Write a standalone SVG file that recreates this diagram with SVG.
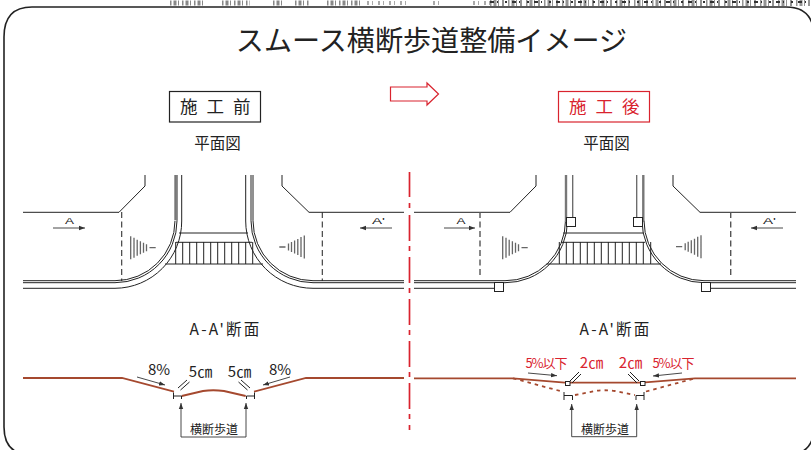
<svg xmlns="http://www.w3.org/2000/svg" width="811" height="450" viewBox="0 0 811 450">
<style>
text{font-family:"Noto Sans CJK JP","Liberation Sans",sans-serif;fill:#222}
.l{fill:none;stroke:#222;stroke-width:1}
.g{fill:none;stroke:#666;stroke-width:1.3}
.th{fill:none;stroke:#777;stroke-width:2.4}
.d{fill:none;stroke:#333;stroke-width:1.1;stroke-dasharray:6 3.5}
.dg{fill:none;stroke:#555;stroke-width:1.4;stroke-dasharray:6 3.5}
.b{fill:none;stroke:#a5492f;stroke-width:1.8}
.bd{fill:none;stroke:#a5492f;stroke-width:1.8;stroke-dasharray:3.5 4}
.sq{fill:#fff;stroke:#222;stroke-width:1}
.a{fill:none;stroke:#333;stroke-width:.9;marker-end:url(#ah)}
.s{font-size:15.5px}
.m{text-anchor:middle}
.p{font-family:"Liberation Sans",sans-serif;font-size:9px}
.red{fill:#d9232e}
.sec{font-size:15.5px;letter-spacing:2.2px;text-anchor:middle}
</style>
<defs>
<marker id="ah" markerWidth="7" markerHeight="6" refX="6" refY="3" orient="auto" markerUnits="userSpaceOnUse"><path d="M0,.8L6,3L0,5.2z" fill="#333"/></marker>
<g id="fan"><path class="g" d="M0,-11.5V11.5M3.3,-10V10M6.5,-8V8M9.7,-6.5V6.5M12.8,-5V5M15.8,-3.5V3.5M18.8,0H25"/></g>
</defs>
<rect width="811" height="450" fill="#fff"/>
<g id="scan-noise" fill="none">
<path d="M170,3H203M222,3H250M273,3H283M295,3H310M327,3H360" stroke="#555" stroke-width="5" stroke-dasharray="1.5 2 3 1.5 1 3" opacity=".7"/>
<path d="M367,3H410M433,3H443M473,3H490" stroke="#aaa" stroke-width="4" stroke-dasharray="2 3 1 5"/>
<path d="M490,3H811" stroke="#666" stroke-width="6" stroke-dasharray="1.5 2 3 1.5 1 3 2 4" opacity=".7"/>
<path d="M490,2H811" stroke="#333" stroke-width="2" stroke-dasharray="4 3 1 7 2 5"/>
</g>
<path id="frame" d="M4,427V37Q4,7 32,7H786Q814,7 814,37V427Q814,455 786,455H32Q4,455 4,427Z" fill="none" stroke="#222" stroke-width="1.6"/>
<text id="title" x="431.5" y="51" class="m" font-size="28.1">スムース横断歩道整備イメージ</text>
<g id="before-label"><rect x="169.5" y="91.5" width="91" height="30.5" fill="#fff" stroke="#222" stroke-width="1.2"/>
<text x="180" y="113" font-size="17.5" letter-spacing="9">施工前</text></g>
<g id="after-label"><rect x="558.5" y="91.5" width="91" height="30.5" fill="#fff" stroke="#d9232e" stroke-width="1.2"/>
<text x="569" y="113" font-size="17.5" letter-spacing="9" class="red">施工後</text></g>
<path id="transition-arrow" d="M390.5,87H427V83L438.5,94L427,105V101H390.5Z" fill="#fff" stroke="#d9232e" stroke-width="1.2"/>
<text id="plan-l" x="217.5" y="149" class="m s">平面図</text>
<text id="plan-r" x="606.5" y="149" class="m s">平面図</text>
<path id="divider" d="M409.5,172V197M409.5,203V208M409.5,215V241M409.5,246V251M409.5,257V283M409.5,288V293M409.5,299V325M409.5,330V335M409.5,341V367M409.5,372V377M409.5,383V409M409.5,414V419M409.5,425V430" fill="none" stroke="#d9232e" stroke-width="1.7"/>

<g id="plan-before">
<path class="l" d="M23,212.3H119L145,186V175M404,212.3H309L282,186V175"/>
<path class="d" d="M121.7,212V281M322.3,212V281"/>
<text x="65" y="224" class="p" textLength="9" lengthAdjust="spacingAndGlyphs">A</text><path class="a" d="M53,228H85"/>
<text x="372" y="224" class="p" textLength="13" lengthAdjust="spacingAndGlyphs">A'</text><path class="a" d="M392,228H360"/>
<use href="#fan" x="130.7" y="247.7"/>
<use href="#fan" transform="translate(304.3 247) scale(-1 1)"/>
<path class="l" d="M179,233H248M176,242.3H252M165,264H263M175.7,242V264M182.7,242V264M189.7,242V264M196.7,242V264M203.7,242V264M210.7,242V264M217.7,242V264M224.7,242V264M231.7,242V264M238.7,242V264M245.7,242V264M252.7,242V264"/>
<path class="l" d="M23,280.7H115A60,60 0 0 0 175,220.7"/>
<path class="l" d="M23,282.7H115A62,62 0 0 0 177,220.7V175"/>
<path class="th" d="M175.5,220V175"/>
<path class="l" d="M23,288.3H115A67,67 0 0 0 181.7,221V175"/>
<path class="l" d="M404,280.7H313A60,60 0 0 1 253,220.7V175"/>
<path class="l" d="M404,282.7H313A62,62 0 0 1 251,220.7V175"/>
<path class="l" d="M404,288.3H313A67.3,67.3 0 0 1 245.7,221V175"/>
</g>

<g id="plan-after">
<path class="l" d="M414,212.3H510L536,186V175M796,212.3H700L673,186V175"/>
<path class="dg" d="M480,212V278M730.7,212V278"/>
<text x="456.5" y="224" class="p" textLength="9" lengthAdjust="spacingAndGlyphs">A</text><path class="a" d="M444,228H475"/>
<text x="763" y="224" class="p" textLength="13" lengthAdjust="spacingAndGlyphs">A'</text><path class="a" d="M783,228H751"/>
<use href="#fan" x="502.7" y="247.7"/>
<use href="#fan" transform="translate(701 246.7) scale(-1 1)"/>
<path class="l" d="M563,233H644M561,242.3H645M559,264H651M559.3,242V264M566.3,242V264M573.3,242V264M580.3,242V264M587.3,242V264M594.3,242V264M601.3,242V264M608.3,242V264M615.3,242V264M622.3,242V264M629.3,242V264M636.3,242V264M643.3,242V264M650.7,242V264"/>
<path class="g" d="M546.5,264H559M651,264H661"/>
<path class="l" d="M414,280.7H505A60,60 0 0 0 565.5,220.7"/>
<path class="l" d="M414,282.7H505A62,62 0 0 0 567.5,220.7"/>
<path class="th" d="M566,222V175"/>
<path class="l" d="M414,288.3H494"/>
<path class="g" d="M572.7,218V175M636.7,218V175"/>
<path class="l" d="M796,280.7H704A60,60 0 0 1 644,220.7"/>
<path class="l" d="M796,282.7H704A62,62 0 0 1 642,220.7"/>
<path class="th" d="M643.3,222V175"/>
<path class="l" d="M711,288.3H796"/>
<rect class="sq" x="566.5" y="217.5" width="9" height="9"/>
<rect class="sq" x="633.5" y="217.5" width="9" height="9"/>
<rect class="sq" x="494.5" y="282.5" width="9" height="9"/>
<rect class="sq" x="701.5" y="282.5" width="9" height="9"/>
</g>

<text id="sec-l" x="225.5" y="335" class="sec">A-A'断面</text>
<text id="sec-r" x="615.5" y="335" class="sec">A-A'断面</text>

<g id="section-before">
<path class="b" d="M23,378H122L174,391.7M181.7,396L203,391Q213,389.5 224,391L245.7,396M254,391.7L306,378H404"/>
<path class="l" d="M173.5,399V392.5M173.5,396H181.5V399M254.5,399V392.5M254.5,396H246.5V399"/>
<path class="a" d="M137,377L165,385"/><path class="a" d="M290,377L263,385"/>
<path class="l" d="M178,388L187,380M180.5,390L189.5,382M250,388L241,380M247.5,390L238.5,382"/>
<path class="a" d="M181,437V403"/><path class="a" d="M181,437H246V403"/>
<text x="159" y="375" class="m" font-size="15">8%</text>
<text x="280" y="375" class="m" font-size="15">8%</text>
<text x="200.5" y="377" class="m" font-size="15">5㎝</text>
<text x="239.5" y="377" class="m" font-size="15">5㎝</text>
<text x="214" y="434" class="m" font-size="12">横断歩道</text>
</g>

<g id="section-after">
<path class="b" d="M414,378.3H513L565,382.7H642L695,378.3H796"/>
<path class="bd" d="M513,378.3L562,391.5M575,395L595,391Q604,389.5 615,391L635,395M646,391.5L695,378.3"/>
<rect class="sq" x="565.5" y="381.5" width="4.5" height="4"/>
<rect class="sq" x="640.5" y="381.5" width="4.5" height="4"/>
<path class="l" d="M564,400V392M564,395.5H572.5V400M644,400V392M644,395.5H636V400"/>
<path class="a" d="M528,373L557,375.7"/><path class="a" d="M682,373L653,376"/>
<path class="l" d="M570,381L579,372M572,383L581,374M639,381L630,372M637,383L628,374"/>
<path class="a" d="M571.7,436.7V404"/><path class="a" d="M571.7,436.7H636.7V404"/>
<text x="546" y="368" class="m red" font-size="13" letter-spacing="-1">5%以下</text>
<text x="673" y="368" class="m red" font-size="13" letter-spacing="-1">5%以下</text>
<text x="591.5" y="368" class="m red" font-size="15">2㎝</text>
<text x="630.5" y="368" class="m red" font-size="15">2㎝</text>
<text x="605" y="434" class="m" font-size="12">横断歩道</text>
</g>
</svg>
